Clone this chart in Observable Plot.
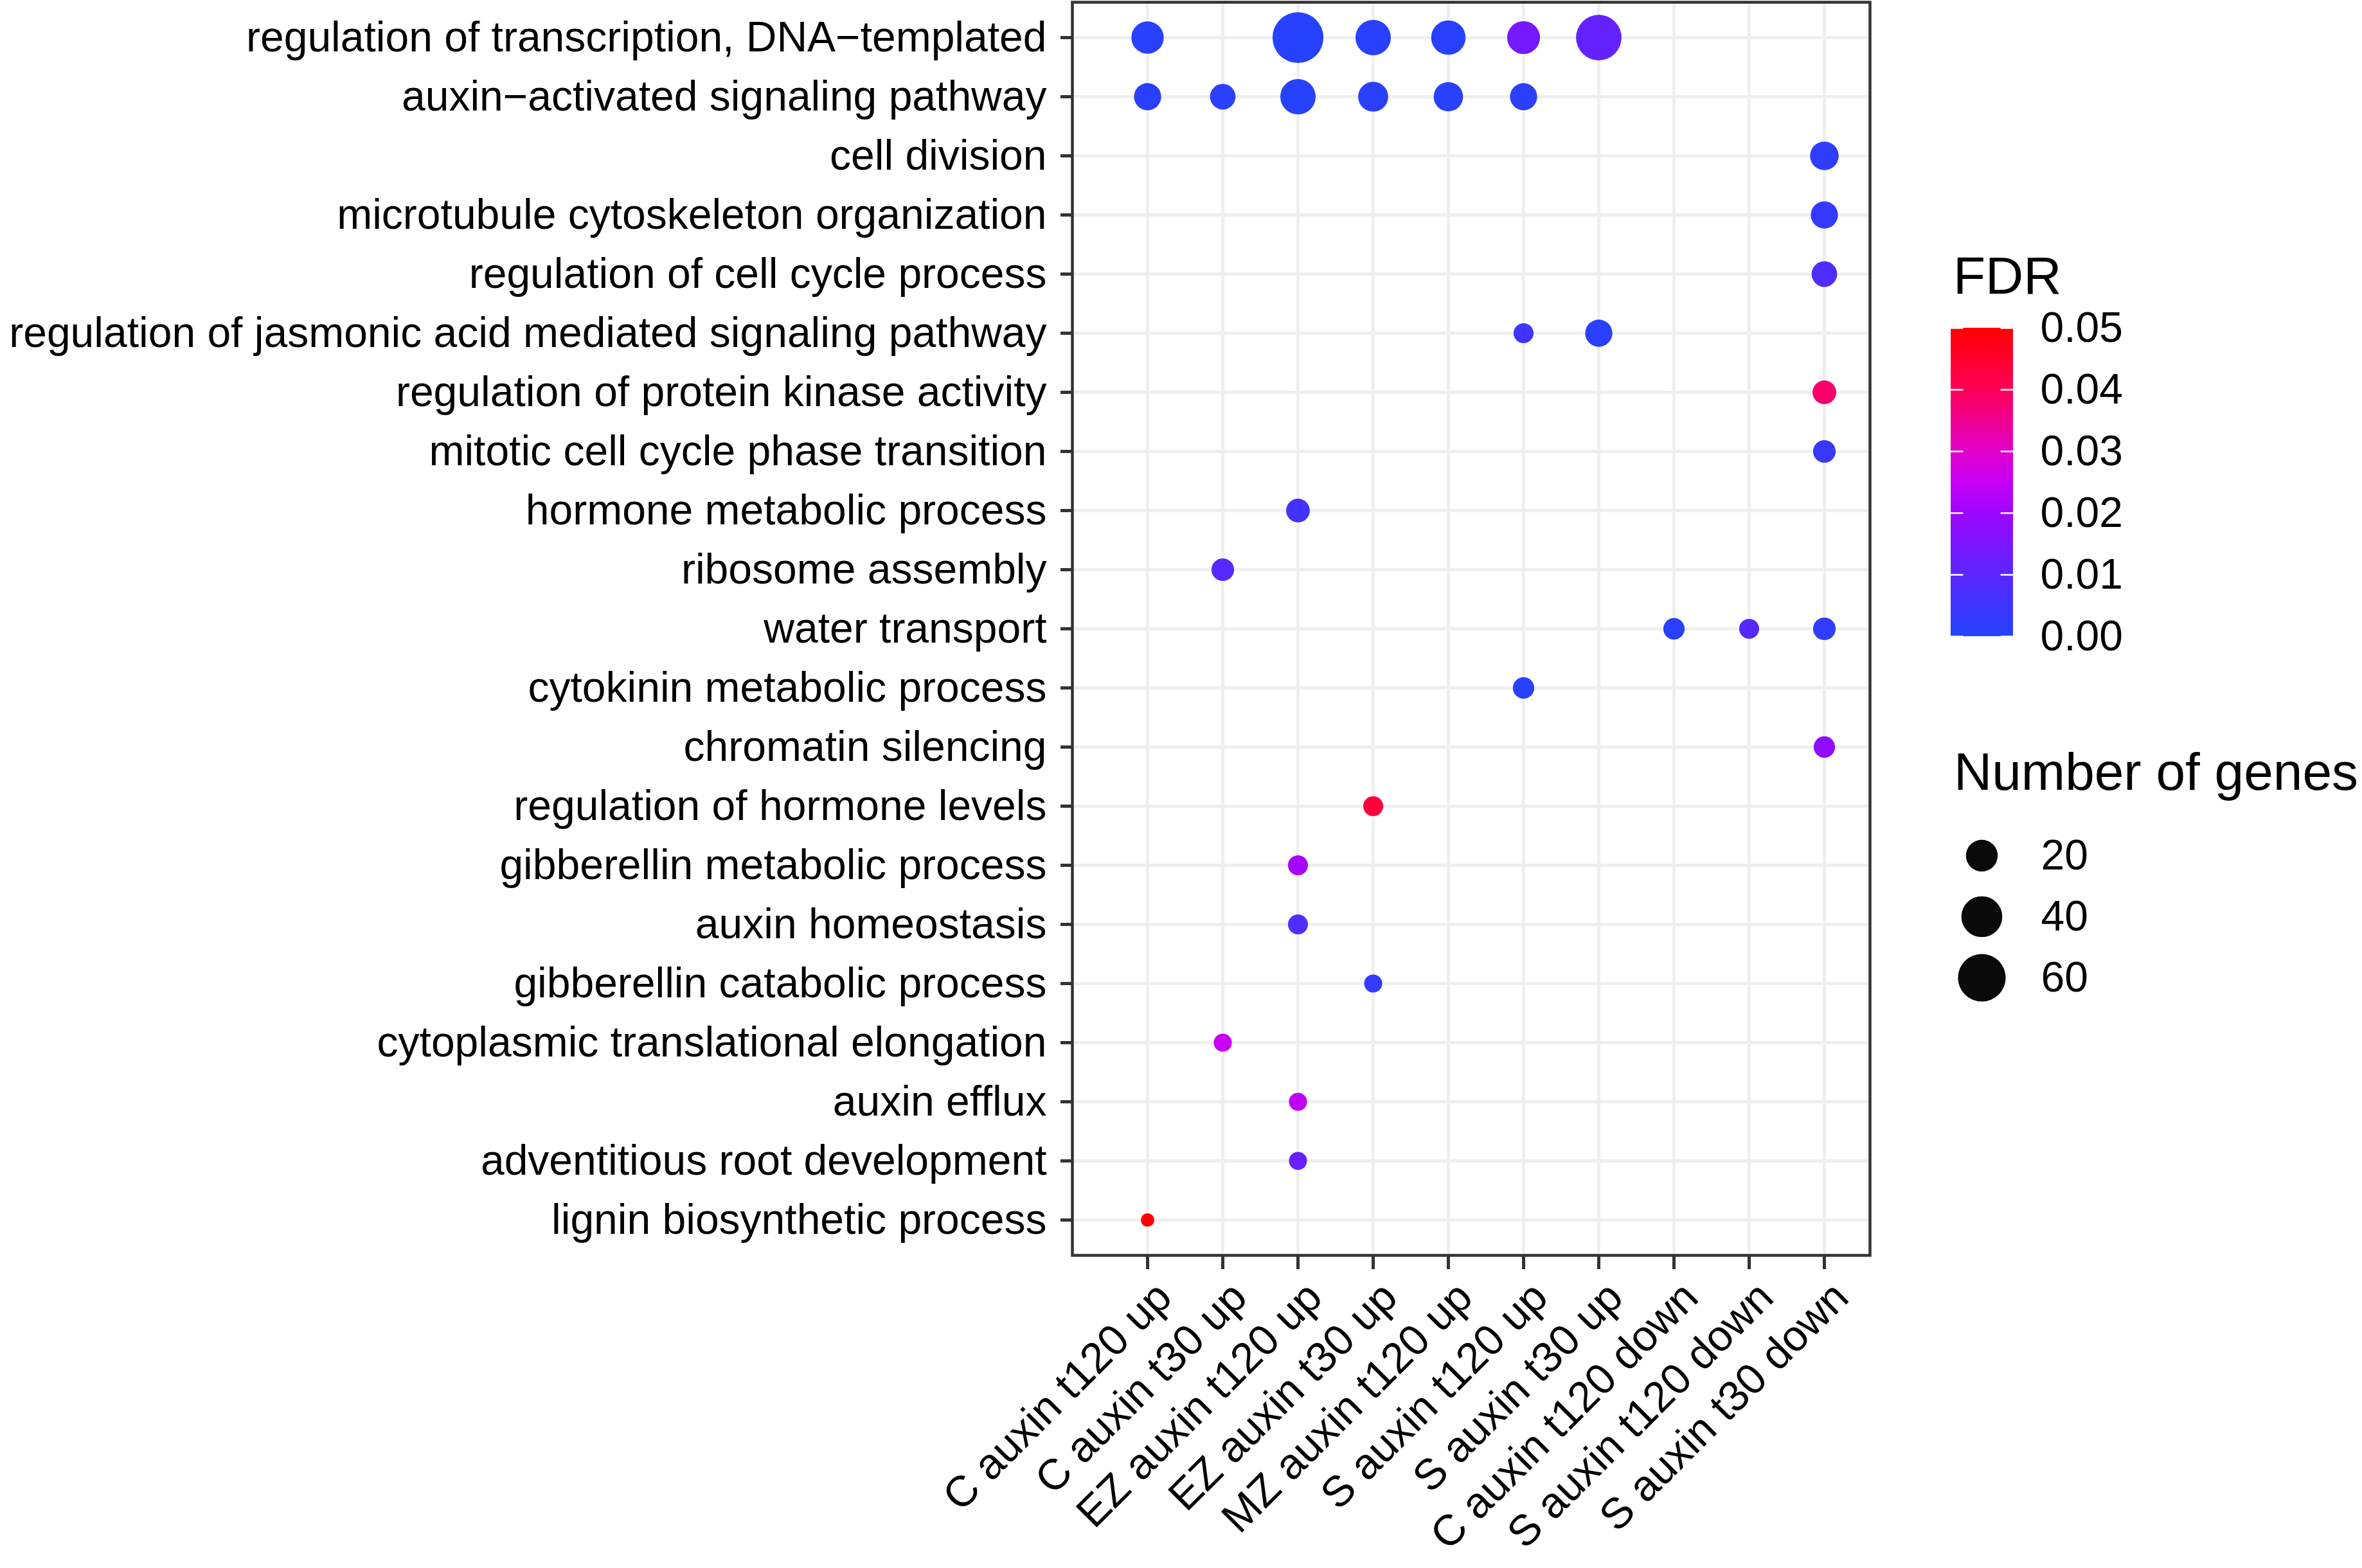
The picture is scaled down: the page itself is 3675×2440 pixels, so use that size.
<!DOCTYPE html>
<html>
<head>
<meta charset="utf-8">
<script src="https://cdn.jsdelivr.net/npm/d3@7"></script>
<script src="https://cdn.jsdelivr.net/npm/@observablehq/plot@0.6"></script>
<style>
  html, body { margin: 0; padding: 0; background: #ffffff; }
  #wrap { position: relative; width: 3675px; height: 2440px; overflow: hidden;
          font-family: "Liberation Sans", Helvetica, Arial, sans-serif; color: #000; }
  #wrap > * { position: absolute; }
  .ttl { font-size: 82px; line-height: 82px; white-space: nowrap; }
</style>
</head>
<body>
<div id="wrap"></div>
<script>
// ---------------- data ----------------
const conditions = [
  "C auxin t120 up", "C auxin t30 up", "EZ auxin t120 up", "EZ auxin t30 up",
  "MZ auxin t120 up", "S auxin t120 up", "S auxin t30 up",
  "C auxin t120 down", "S auxin t120 down", "S auxin t30 down"
];
const terms = [
  "regulation of transcription, DNA\u2212templated",
  "auxin\u2212activated signaling pathway",
  "cell division",
  "microtubule cytoskeleton organization",
  "regulation of cell cycle process",
  "regulation of jasmonic acid mediated signaling pathway",
  "regulation of protein kinase activity",
  "mitotic cell cycle phase transition",
  "hormone metabolic process",
  "ribosome assembly",
  "water transport",
  "cytokinin metabolic process",
  "chromatin silencing",
  "regulation of hormone levels",
  "gibberellin metabolic process",
  "auxin homeostasis",
  "gibberellin catabolic process",
  "cytoplasmic translational elongation",
  "auxin efflux",
  "adventitious root development",
  "lignin biosynthetic process"
];
// one entry per dot: term index, condition index, number of genes, FDR
const dotTerm  = [0,0,0,0,0,0, 1,1,1,1,1,1, 2,3,4, 5,5, 6,7,8,9, 10,10,10, 11,12,13,14,15,16,17,18,19,20];
const dotCond  = [0,2,3,4,5,6, 0,1,2,3,4,5, 9,9,9, 5,6, 9,9,2,1, 7,8,9,   5,9,3,2,2,3,1,2,2,0];
const dotGenes = [21,71,27,25,22,53, 13,11,27,17,16,13, 15,13,11, 6,13, 9,8,9,8, 7,6,8, 7,7,6,6,6,5,5,5,5,4];
const dotFDR   = [0.001,0.0003,0.001,0.001,0.014,0.0115,
                  0.001,0.001,0.0005,0.001,0.001,0.0015,
                  0.002,0.003,0.008,
                  0.005,0.001,
                  0.038,0.004,0.006,0.009,
                  0.001,0.009,0.002,
                  0.001,0.018,0.043,0.021,0.008,0.003,0.025,0.024,0.012,0.049];
const fdrTicks = [0, 0.01, 0.02, 0.03, 0.04, 0.05];
const sizeBreaks = [20, 40, 60];

// ---------------- scales ----------------
const FONT = '"Liberation Sans", Helvetica, Arial, sans-serif';
const dots = dotTerm.map((t, i) => ({
  term: terms[t], cond: conditions[dotCond[i]], n: dotGenes[i], fdr: dotFDR[i]
}));
const nMin = d3.min(dotGenes), nMax = d3.max(dotGenes);
// ggplot-like area palette: radius linear in sqrt of rescaled count
const rOf = n => 1 + Math.sqrt((n - nMin) / (nMax - nMin));
const rScale = { type: "linear", domain: [1, 2], range: [10.5, 39.6] };
const colorScale = {
  type: "linear",
  domain: [0, 0.01, 0.02, 0.025, 0.03, 0.04, 0.05],
  range: ["#2443FF", "#5A26FF", "#9E06FF", "#C800F5", "#E000C8", "#FF0055", "#FF0000"],
  interpolate: "rgb"
};

const wrap = document.getElementById("wrap");
function place(el, left, top) {
  el.style.position = "absolute";
  el.style.left = left + "px";
  el.style.top = top + "px";
  wrap.appendChild(el);
}

// ---------------- main chart ----------------
const main = Plot.plot({
  width: 3675, height: 2440,
  marginLeft: 1668, marginRight: 766, marginTop: 3, marginBottom: 487,
  style: { fontFamily: FONT, fontSize: "66px", color: "black", background: "transparent", overflow: "visible" },
  x: { type: "point", domain: conditions, padding: 0, insetLeft: 116, insetRight: 70 },
  y: { type: "point", domain: terms, padding: 0, insetTop: 52, insetBottom: 53 },
  r: rScale,
  color: colorScale,
  marks: [
    Plot.gridX({ stroke: "#EEF0F0", strokeOpacity: 1, strokeWidth: 5 }),
    Plot.gridY({ stroke: "#EEF0F0", strokeOpacity: 1, strokeWidth: 5 }),
    Plot.dot(dots, { x: "cond", y: "term", r: d => rOf(d.n), fill: "fdr", stroke: "none" }),
    Plot.frame({ stroke: "#333333", strokeWidth: 4.5 }),
    Plot.axisY({ tickSize: 18, tickPadding: 22, fontSize: 66, stroke: "#333333", strokeWidth: 5, fill: "black", label: null }),
    // x tick marks
    Plot.axisX({ tickSize: 22, stroke: "#333333", strokeWidth: 5, fill: "none", label: null }),
    // x tick labels (rotated 45°)
    Plot.axisX({ tickSize: 22, tickPadding: 32, dx: 26, tickRotate: -45, fontSize: 67, stroke: "none", fill: "black", label: null })
  ]
});
place(main, 0, 0);

// ---------------- FDR legend ----------------
const t1 = document.createElement("div");
t1.className = "ttl"; t1.textContent = "FDR";
place(t1, 3039, 388);

const nSlices = 240;
const slices = d3.range(nSlices).map(i => 0.05 * i / nSlices);
const colorLegend = Plot.plot({
  width: 440, height: 570,
  marginLeft: 0, marginRight: 343, marginTop: 50, marginBottom: 40,
  style: { fontFamily: FONT, fontSize: "66px", color: "black", background: "transparent", overflow: "visible" },
  x: { domain: [0, 1], axis: null },
  y: { domain: [0, 0.05], axis: null },
  color: colorScale,
  marks: [
    Plot.rect(slices, { x1: 0, x2: 1, y1: d => d, y2: d => Math.min(0.05, d + 0.05 / nSlices * 1.6), fill: d => d }),
    Plot.ruleY(fdrTicks, { x1: 0, x2: 0.2, stroke: "white", strokeWidth: 2.5 }),
    Plot.ruleY(fdrTicks, { x1: 0.8, x2: 1, stroke: "white", strokeWidth: 2.5 }),
    Plot.axisY(fdrTicks, { anchor: "right", tickSize: 0, tickPadding: 42, tickFormat: d3.format(".2f"), fontSize: 66, fill: "black", label: null })
  ]
});
place(colorLegend, 3035, 460);

// ---------------- size legend ----------------
const t2 = document.createElement("div");
t2.className = "ttl"; t2.textContent = "Number of genes";
place(t2, 3040, 1160);

const sizeLegend = Plot.plot({
  width: 400, height: 300,
  marginLeft: 83, marginRight: 316, marginTop: 50, marginBottom: 59,
  style: { fontFamily: FONT, fontSize: "66px", color: "black", background: "transparent", overflow: "visible" },
  x: { domain: [0, 1], axis: null },
  y: { type: "point", domain: sizeBreaks, padding: 0, axis: null },
  r: rScale,
  marks: [
    Plot.dot(sizeBreaks, { x: 0, y: d => d, r: d => rOf(d), fill: "#0A0A0A", stroke: "none" }),
    Plot.text(sizeBreaks, { x: 0, y: d => d, text: d => String(d), dx: 92, textAnchor: "start", fontSize: 66, fill: "black" })
  ]
});
place(sizeLegend, 3000, 1280);
</script>
</body>
</html>
